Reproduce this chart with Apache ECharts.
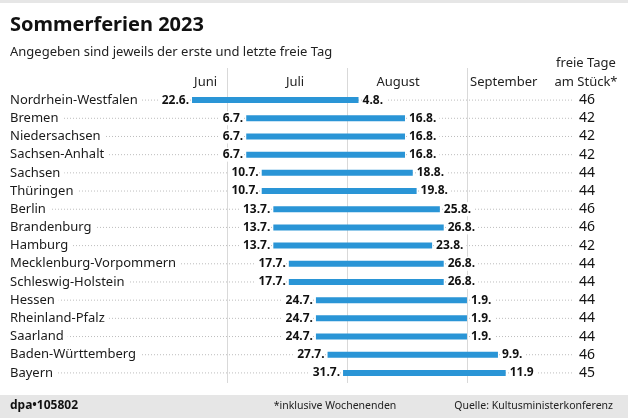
<!DOCTYPE html>
<html><head><meta charset="utf-8">
<script src="https://cdn.jsdelivr.net/npm/echarts@6/dist/echarts.min.js"></script>
<style>html,body{margin:0;padding:0;background:#fff}#c{width:628px;height:418px}</style>
</head><body><div id="c"></div><script>
const states = ['Nordrhein-Westfalen','Bremen','Niedersachsen','Sachsen-Anhalt','Sachsen','Thüringen','Berlin','Brandenburg','Hamburg','Mecklenburg-Vorpommern','Schleswig-Holstein','Hessen','Rheinland-Pfalz','Saarland','Baden-Württemberg','Bayern'];
const firstDay = ['22.6.','6.7.','6.7.','6.7.','10.7.','10.7.','13.7.','13.7.','13.7.','17.7.','17.7.','24.7.','24.7.','24.7.','27.7.','31.7.'];
const lastDay = ['4.8.','16.8.','16.8.','16.8.','18.8.','19.8.','25.8.','26.8.','23.8.','26.8.','26.8.','1.9.','1.9.','1.9.','9.9.','11.9'];
const freeDays = [46,42,42,42,44,44,46,46,42,44,44,44,44,44,46,45];
const monthNames = ['Juni','Juli','August','September'];
const monthStarts = ['1.7.','1.8.','1.9.'];

const cum = [0,31,59,90,120,151,181,212,243,273,304,334];
function doy(s){ const p = s.split('.'); return cum[+p[1]-1] + (+p[0]); }
const FONT = '"Noto Sans", sans-serif';
const monthLabelAt = [176.5, 199.6, 226.2, 253.5];
const rows = states.map((s,i)=>[i, doy(firstDay[i]), doy(lastDay[i])]);

const chart = echarts.init(document.getElementById('c'), null, {renderer:'canvas'});
const option = {
  animation:false,
  backgroundColor:'#fff',
  grid:[{left:10,right:10,top:91,bottom:36},{left:10,right:10,top:68,bottom:35}],
  xAxis:[
    {type:'value',gridIndex:0,min:126,max:283,show:false},
    {type:'value',gridIndex:1,min:126,max:283,position:'top',
     axisLine:{show:false},axisTick:{show:false},splitLine:{show:false},
     axisLabel:{inside:true,margin:8,customValues:monthLabelAt,
       formatter:(v)=>{let k=0,b=1e9;monthLabelAt.forEach((m,j)=>{if(Math.abs(m-v)<b){b=Math.abs(m-v);k=j;}});return monthNames[k];},
       fontSize:13,color:'#222',fontFamily:FONT}}
  ],
  yAxis:[
    {type:'category',gridIndex:0,data:states,inverse:true,z:5,
     axisLine:{show:false},axisTick:{show:false},splitLine:{show:false},
     axisLabel:{inside:true,margin:0,align:'left',fontSize:13,color:'#1a1a1a',fontFamily:FONT,
       backgroundColor:'#fff',padding:[1,4,1,0]}},
    {type:'value',gridIndex:1,min:0,max:1,show:false}
  ],
  graphic:[
    {type:'rect',shape:{x:0,y:0,width:628,height:3},style:{fill:'#e6e6e6'},silent:true},
    {type:'rect',shape:{x:0,y:395,width:628,height:23},style:{fill:'#e6e6e6'},silent:true},
    {type:'text',x:10,y:25,style:{text:'Sommerferien 2023',fontSize:20,fontWeight:'bold',fontFamily:FONT,fill:'#111',verticalAlign:'middle'}},
    {type:'text',x:10,y:52,style:{text:'Angegeben sind jeweils der erste und letzte freie Tag',fontSize:13,fontFamily:FONT,fill:'#222',verticalAlign:'middle'}},
    {type:'text',x:586,y:72.5,style:{text:'freie Tage\nam Stück*',fontSize:13,lineHeight:19,fontFamily:FONT,fill:'#222',align:'center',verticalAlign:'middle'}},
    {type:'text',x:10,y:406,style:{text:'dpa\u2022105802',fontSize:12,fontWeight:'bold',fontFamily:FONT,fill:'#111',verticalAlign:'middle'}},
    {type:'text',x:335,y:406,style:{text:'*inklusive Wochenenden',fontSize:10.5,fontFamily:FONT,fill:'#222',align:'center',verticalAlign:'middle'}},
    {type:'text',x:613,y:406,style:{text:'Quelle: Kultusministerkonferenz',fontSize:10.5,fontFamily:FONT,fill:'#222',align:'right',verticalAlign:'middle'}}
  ],
  series:[
    {type:'line',xAxisIndex:1,yAxisIndex:1,data:[],silent:true,z:1,
     markLine:{z:1,symbol:'none',silent:true,label:{show:false},
       lineStyle:{color:'#d9d9d9',width:1,type:'solid'},
       data:monthStarts.map(d=>({xAxis:doy(d)}))}},
    {type:'custom',xAxisIndex:0,yAxisIndex:0,z:3,data:rows,
     renderItem:(params,api)=>{
       const i=params.dataIndex;
       const p1=api.coord([api.value(1),api.value(0)]);
       const p2=api.coord([api.value(2),api.value(0)]);
       const cs=params.coordSys;
       const y=p1[1];
       return {type:'group',children:[
         {type:'line',shape:{x1:cs.x,y1:y,x2:cs.x+cs.width-45,y2:y},style:{stroke:'#bdbdbd',lineWidth:1,lineDash:[1,2]},z2:0},
         {type:'rect',shape:{x:p1[0],y:y-3,width:p2[0]-p1[0],height:6},style:{fill:'#2a95d6'},z2:1},
         {type:'text',x:p1[0]-3,y:y,style:{text:firstDay[i],align:'right',verticalAlign:'middle',fontSize:12,fontWeight:'bold',fontFamily:FONT,fill:'#111',backgroundColor:'#fff',padding:[1,0,1,3]},z2:2},
         {type:'text',x:p2[0]+4,y:y,style:{text:lastDay[i],align:'left',verticalAlign:'middle',fontSize:12,fontWeight:'bold',fontFamily:FONT,fill:'#111',backgroundColor:'#fff',padding:[1,3,1,0]},z2:2},
         {type:'text',x:cs.x+cs.width-31,y:y,style:{text:String(freeDays[i]),align:'center',verticalAlign:'middle',fontSize:14,fontFamily:FONT,fill:'#111'},z2:2}
       ]};
     }}
  ]
};
chart.setOption(option);
</script></body></html>
